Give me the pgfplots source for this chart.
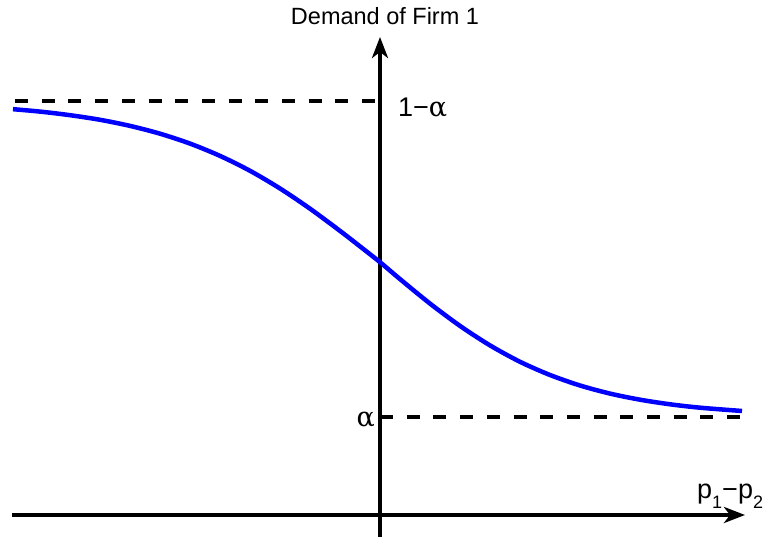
\documentclass[border=0pt]{standalone}
\usepackage{pgfplots}
\pgfplotsset{compat=1.18}
\usepackage{fontspec}
\setmainfont{Liberation Sans}
\newfontfamily\grk{DejaVu Serif}
\usetikzlibrary{arrows.meta}
\newcommand{\sub}[1]{\raisebox{-10bp}{\fontsize{18bp}{20bp}\selectfont #1}}
\begin{document}
\begin{tikzpicture}
\begin{axis}[
  scale only axis, width=733bp, height=500bp,
  xmin=-368, xmax=365, ymin=-22, ymax=478,
  axis lines=middle, xtick=\empty, ytick=\empty,
  axis line style={line width=4bp},
  x axis line style={-{Stealth[length=21bp,width=16bp,inset=6bp]}},
  y axis line style={-{Stealth[length=21bp,width=16bp,inset=6bp]}},
  clip=false,
]
\path (axis cs:-380,-24) rectangle (axis cs:384,515);
\addplot[black, line width=4bp, dash pattern=on 13bp off 13.7bp] coordinates {(-365,414) (0,414)};
\addplot[black, line width=4bp, dash pattern=on 13bp off 13.7bp] coordinates {(0,98) (362,98)};
\addplot[color={rgb,255:red,0;green,0;blue,255}, line width=4.5bp, smooth, tension=0.5] coordinates {
(-367,405.8) (-340,403.4) (-310,399.8) (-280,395.2) (-250,389.1) (-220,381.3) (-190,371.4) (-160,359.1) (-130,344.2) (-100,326.5) (-70,306.3) (-40,284.1) (-20,268.6) (0,252.8)
(20,235.9) (50,211.4) (80,189.1) (110,169.6) (140,153.2) (170,140.0) (200,129.5) (230,121.4) (260,115.3) (290,110.7) (320,107.3) (362,104.0)
};
\node[anchor=base, font=\fontsize{23.5bp}{26bp}\selectfont] at (axis cs:5,490) {Demand of Firm 1};
\node[anchor=base west, inner sep=0pt, font=\fontsize{27bp}{30bp}\selectfont] at (axis cs:18,398) {1−{\grk α}};
\node[anchor=base east, inner sep=0pt, font=\fontsize{27bp}{30bp}\selectfont] at (axis cs:-5,88) {{\grk α}};
\node[anchor=base west, inner sep=0pt, font=\fontsize{27bp}{30bp}\selectfont] at (axis cs:317,16) {p\sub{1}−p\sub{2}};
\end{axis}
\end{tikzpicture}
\end{document}
